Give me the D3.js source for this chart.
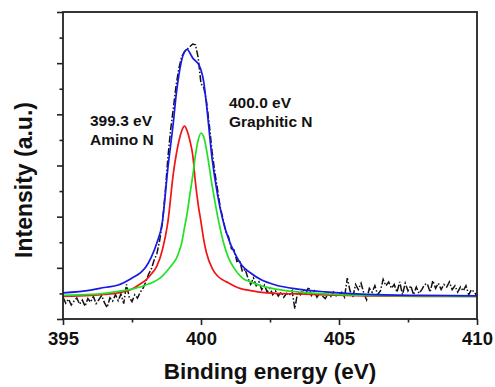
<!DOCTYPE html>
<html>
<head>
<meta charset="utf-8">
<script src="https://cdn.jsdelivr.net/npm/d3@7"></script>
<style>
  body { margin: 0; background: #fff; }
  svg text { font-family: "Liberation Sans", Arial, sans-serif; font-weight: bold; fill: #111; }
</style>
</head>
<body>
<svg id="chart" width="495" height="387"></svg>
<script>
// XPS N 1s spectrum, binding energy (eV) vs intensity (a.u.)

const xMajorTicks = [395, 400, 405, 410];
const xMinorTicks = [397.5, 402.5, 407.5];
const yMajorTicks = [0, 2, 4, 6, 8, 10, 12];
const yMinorTicks = [1, 3, 5, 7, 9, 11];

// energy grid shared by the fitted curves
const fitEnergy = [395, 396, 396.5, 397, 397.5, 397.8, 398, 398.2, 398.4, 398.6, 398.8,
  399, 399.1, 399.2, 399.3, 399.4, 399.5, 399.6, 399.7, 399.8, 399.9,
  400, 400.1, 400.2, 400.4, 400.6, 400.8, 401, 401.2, 401.5, 401.8,
  402.2, 402.7, 403.5, 404.5, 406, 408, 410];

// 399.3 eV component (amino N)
const aminoN = [0.88, 0.92, 0.96, 1.02, 1.17, 1.37, 1.52, 1.76, 2.07, 2.70, 3.79,
  5.71, 6.41, 6.96, 7.35, 7.54, 7.35, 6.96, 6.41, 5.32, 4.46,
  3.79, 3.09, 2.58, 1.99, 1.68, 1.52, 1.41, 1.29, 1.17, 1.11,
  1.04, 1.00, 0.98, 0.94, 0.90, 0.88, 0.88];

// 400.0 eV component (graphitic N)
const graphiticN = [0.92, 0.96, 1.00, 1.08, 1.17, 1.25, 1.33, 1.41, 1.52, 1.68, 1.92,
  2.19, 2.35, 2.62, 2.97, 3.56, 4.14, 4.89, 5.59, 6.41, 7.00,
  7.27, 7.11, 6.61, 5.24, 4.03, 3.05, 2.38, 1.99, 1.60, 1.45,
  1.29, 1.17, 1.06, 0.98, 0.92, 0.90, 0.88];

// envelope (sum of fit)
const envelope = [1.02, 1.13, 1.23, 1.33, 1.60, 1.80, 2.03, 2.42, 2.97, 3.79, 5.90,
  7.70, 8.76, 9.54, 10.12, 10.44, 10.54, 10.40, 10.20, 10.09, 9.97,
  9.73, 9.26, 8.37, 6.29, 4.85, 3.83, 3.13, 2.62, 2.07, 1.80,
  1.52, 1.33, 1.17, 1.06, 0.96, 0.92, 0.90];

// raw measured spectrum
const rawEnergy = [395.0, 395.1, 395.2, 395.3, 395.4, 395.5, 395.6, 395.7, 395.8, 395.9,
  396.0, 396.1, 396.2, 396.3, 396.4, 396.5, 396.6, 396.7, 396.8, 396.9,
  397.0, 397.1, 397.2, 397.3, 397.4, 397.5, 397.6, 397.7, 397.8, 397.9,
  398.0, 398.1, 398.2, 398.3, 398.4, 398.5, 398.6, 398.7, 398.8, 398.9,
  399.0, 399.1, 399.2, 399.3, 399.4, 399.5, 399.6, 399.7, 399.8, 399.9,
  400.0, 400.1, 400.2, 400.3, 400.4, 400.5, 400.6, 400.7, 400.8, 400.9,
  401.0, 401.1, 401.2, 401.3, 401.4, 401.5, 401.6, 401.7, 401.8, 401.9,
  402.0, 402.1, 402.2, 402.3, 402.4, 402.5, 402.6, 402.7, 402.8, 402.9,
  403.0, 403.1, 403.2, 403.3, 403.4, 403.5, 403.6, 403.7, 403.8, 403.9,
  404.0, 404.1, 404.2, 404.3, 404.4, 404.5, 404.6, 404.7, 404.8, 404.9,
  405.0, 405.1, 405.2, 405.3, 405.4, 405.5, 405.6, 405.7, 405.8, 405.9,
  406.0, 406.1, 406.2, 406.3, 406.4, 406.5, 406.6, 406.7, 406.8, 406.9,
  407.0, 407.1, 407.2, 407.3, 407.4, 407.5, 407.6, 407.7, 407.8, 407.9,
  408.0, 408.1, 408.2, 408.3, 408.4, 408.5, 408.6, 408.7, 408.8, 408.9,
  409.0, 409.1, 409.2, 409.3, 409.4, 409.5, 409.6, 409.7, 409.8, 409.9, 410.0];
const rawIntensity = [0.85, 0.62, 0.78, 0.55, 0.70, 0.82, 0.58, 0.74, 0.50, 0.80,
  0.66, 0.88, 0.60, 0.76, 0.92, 0.64, 0.45, 0.83, 0.70, 0.95,
  0.72, 0.98, 0.60, 1.35, 0.85, 0.68, 0.95, 0.82, 1.05, 1.20,
  1.45, 1.75, 1.95, 2.30, 2.55, 3.05, 3.75, 4.90, 6.30, 7.40,
  8.25, 9.15, 9.80, 10.25, 10.45, 10.55, 10.65, 10.75, 10.72, 10.20,
  9.20, 9.05, 8.50, 7.60, 6.55, 5.75, 5.05, 4.35, 3.90, 3.40,
  3.20, 2.75, 2.70, 2.25, 2.30, 1.85, 1.95, 1.60, 1.35, 1.60,
  1.30, 1.45, 1.15, 1.32, 1.05, 1.20, 0.95, 1.10, 0.90, 1.05,
  0.85, 1.00, 0.92, 1.10, 0.40, 1.05, 0.95, 1.15, 1.00, 1.25,
  0.92, 1.10, 0.85, 1.00, 0.90, 0.80, 0.98, 0.88, 1.05, 0.90,
  0.95, 1.05, 0.85, 1.60, 1.10, 0.85, 1.35, 1.15, 1.40, 1.00,
  0.75, 1.20, 1.05, 1.30, 0.95, 1.10, 1.55, 1.30, 1.45, 1.20,
  1.35, 1.05, 1.45, 0.95, 1.40, 1.10, 1.30, 0.95, 1.25, 1.00,
  1.15, 1.35, 1.38, 1.05, 1.50, 1.20, 1.40, 1.15, 1.35, 1.25,
  1.45, 1.15, 1.30, 1.05, 1.25, 1.10, 1.30, 0.95, 1.15, 1.05, 0.90];

const labels = [
  { lines: ['399.3 eV', 'Amino N'], x: 90, y: 126 },
  { lines: ['400.0 eV', 'Graphitic N'], x: 229, y: 108 }
];

const margin = { top: 12, right: 18, bottom: 68, left: 63 };
const W = 495, H = 387;
const width = W - margin.left - margin.right;
const height = H - margin.top - margin.bottom;

const svg = d3.select('#chart');
const g = svg.append('g').attr('transform', `translate(${margin.left},${margin.top})`);

const x = d3.scaleLinear().domain([395, 410]).range([0, width]);
const y = d3.scaleLinear().domain([0, 12]).range([height, 0]);

svg.append('defs').append('clipPath').attr('id', 'plot-clip')
  .append('rect').attr('width', width).attr('height', height);

const plot = g.append('g').attr('clip-path', 'url(#plot-clip)');

// raw data, dash-dot
const rawPoints = rawEnergy.map((e, i) => [e, rawIntensity[i]]);
plot.append('path')
  .datum(rawPoints)
  .attr('fill', 'none')
  .attr('stroke', '#111')
  .attr('stroke-width', 1.5)
  .attr('stroke-dasharray', '7,2,1.5,2')
  .attr('d', d3.line().x(d => x(d[0])).y(d => y(d[1])));

const fitLine = d3.line().curve(d3.curveMonotoneX).x(d => x(d[0])).y(d => y(d[1]));
const fits = [
  { values: aminoN, color: '#f01414' },
  { values: graphiticN, color: '#22e022' },
  { values: envelope, color: '#1818e8' }
];
fits.forEach(f => {
  plot.append('path')
    .datum(fitEnergy.map((e, i) => [e, f.values[i]]))
    .attr('fill', 'none')
    .attr('stroke', f.color)
    .attr('stroke-width', 1.7)
    .attr('d', fitLine);
});

// axes
const xAxisMajor = g.append('g').attr('transform', `translate(0,${height})`)
  .call(d3.axisBottom(x).tickValues(xMajorTicks).tickSize(6).tickPadding(7).tickFormat(d3.format('d')));
const xAxisMinor = g.append('g').attr('transform', `translate(0,${height})`)
  .call(d3.axisBottom(x).tickValues(xMinorTicks).tickSize(3.5).tickFormat(''));
const yAxisMajor = g.append('g')
  .call(d3.axisLeft(y).tickValues(yMajorTicks).tickSize(6).tickFormat(''));
const yAxisMinor = g.append('g')
  .call(d3.axisLeft(y).tickValues(yMinorTicks).tickSize(3.5).tickFormat(''));

[xAxisMajor, xAxisMinor, yAxisMajor, yAxisMinor].forEach(a => {
  a.select('.domain').remove();
  a.selectAll('.tick line').attr('stroke', '#222').attr('stroke-width', 1.6);
});
xAxisMajor.selectAll('.tick text')
  .attr('font-size', '18.5px')
  .attr('fill', '#111');

// frame
g.append('rect')
  .attr('width', width)
  .attr('height', height)
  .attr('fill', 'none')
  .attr('stroke', '#222')
  .attr('stroke-width', 1.8);

// annotations
labels.forEach(l => {
  const t = g.append('text')
    .attr('x', l.x - margin.left)
    .attr('y', l.y - margin.top)
    .attr('font-size', '15.5px');
  l.lines.forEach((s, i) => {
    t.append('tspan').attr('x', l.x - margin.left).attr('dy', i === 0 ? 0 : 19).text(s);
  });
});

// axis titles
svg.append('text')
  .attr('x', margin.left + width / 2)
  .attr('y', 379)
  .attr('text-anchor', 'middle')
  .attr('font-size', '22.5px')
  .text('Binding energy (eV)');

svg.append('text')
  .attr('transform', 'translate(32,180) rotate(-90)')
  .attr('text-anchor', 'middle')
  .attr('font-size', '23px')
  .text('Intensity (a.u.)');
</script>
</body>
</html>
